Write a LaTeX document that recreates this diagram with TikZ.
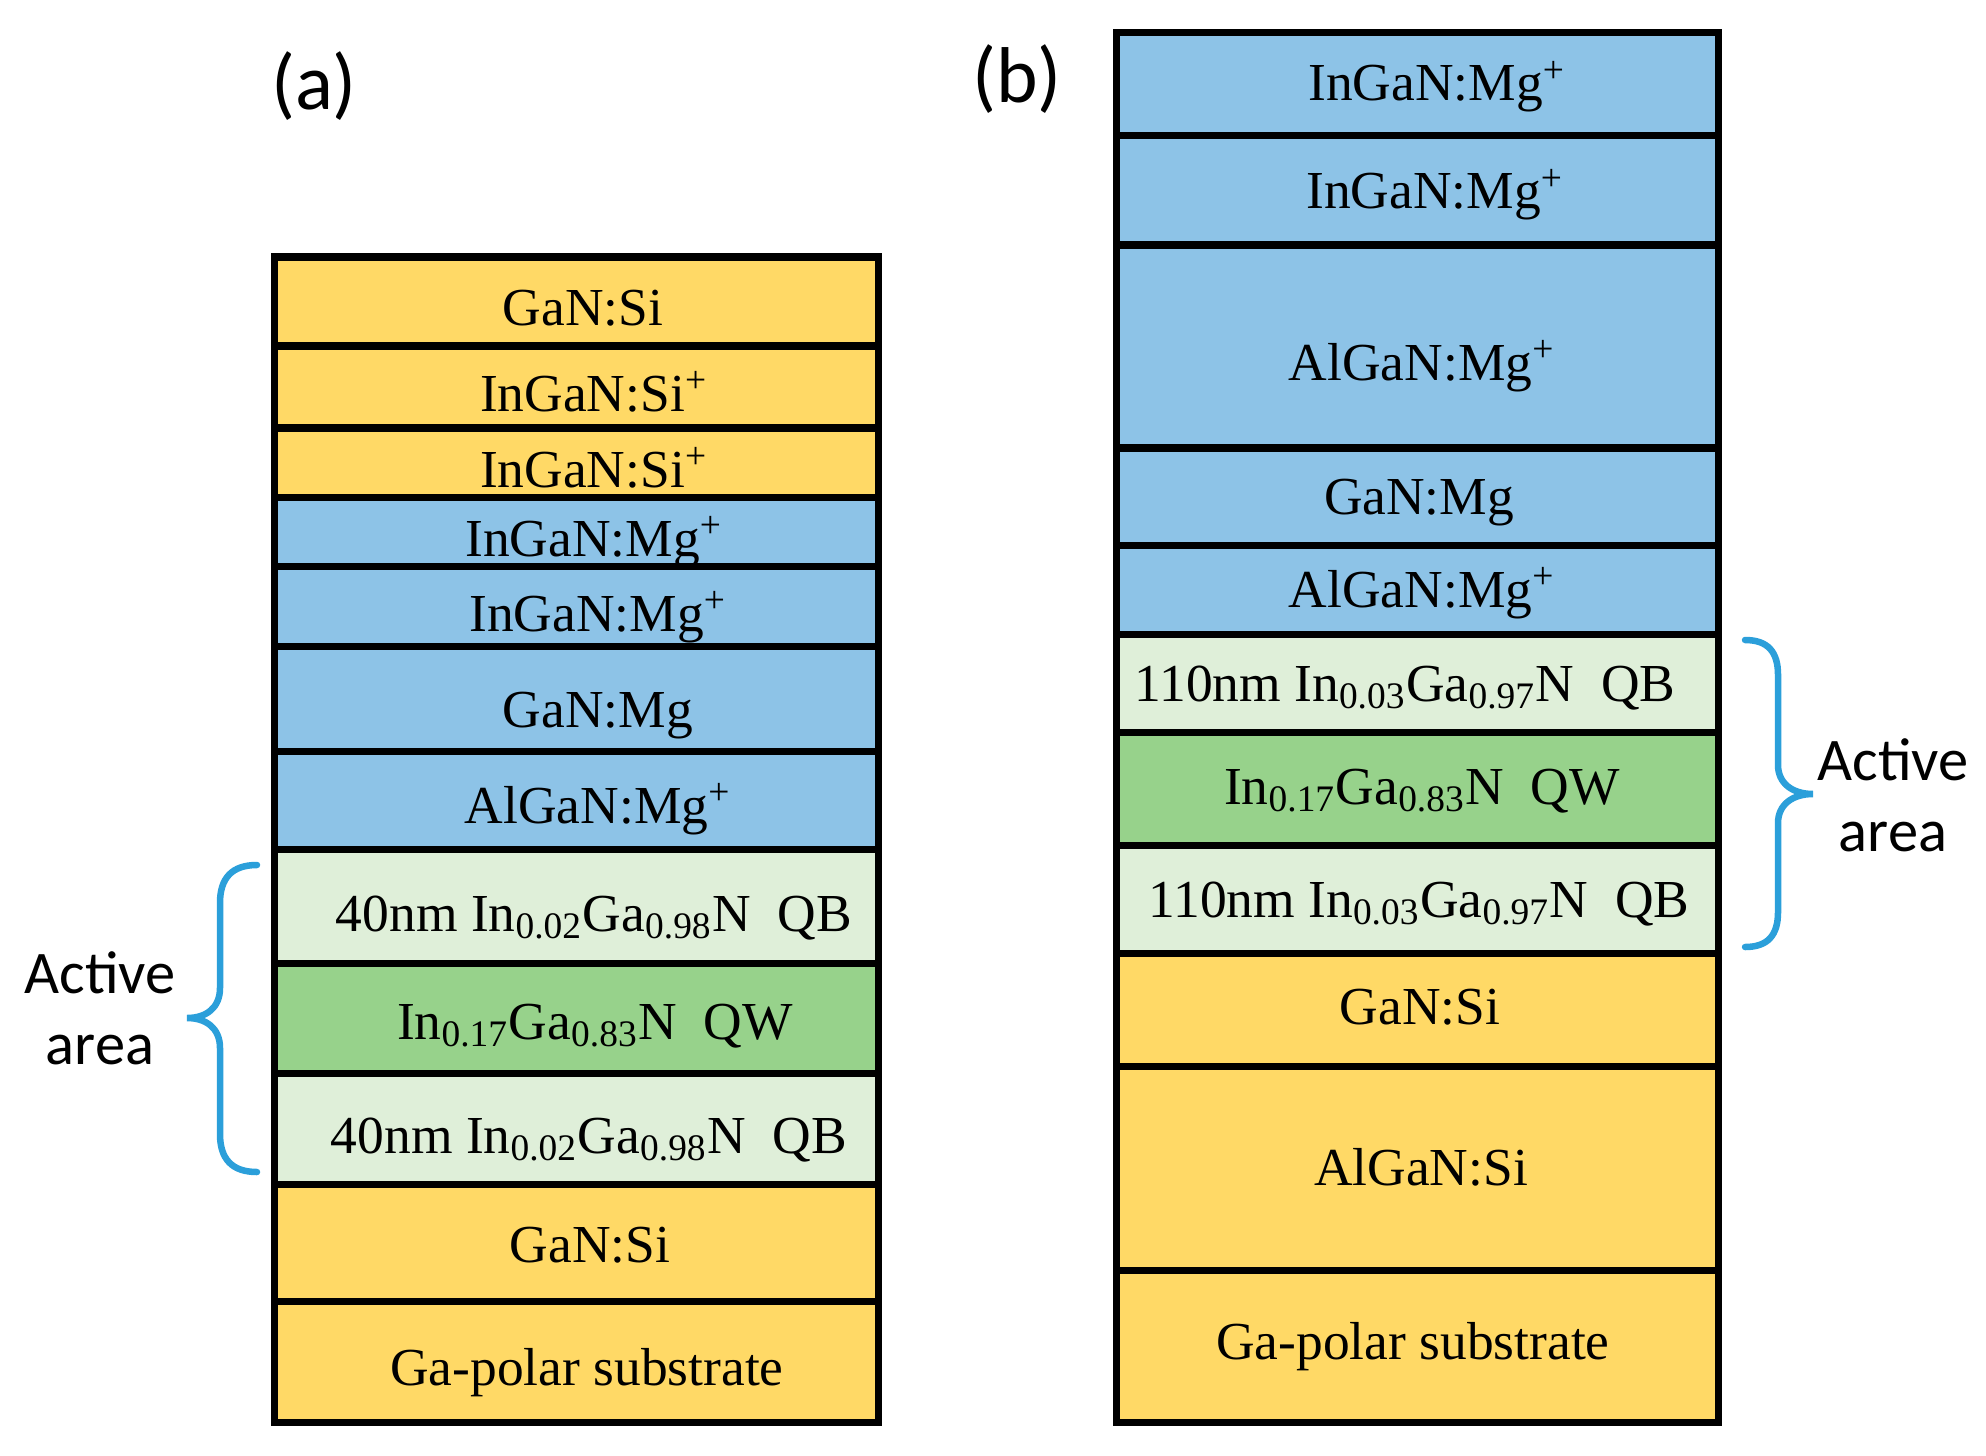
\documentclass[tikz,border=0pt]{standalone}
\usepackage{fontspec}
\setmainfont{Liberation Serif}
\newfontfamily\calfont{Carlito}
\usetikzlibrary{positioning}
\definecolor{myyellow}{HTML}{FFD966}
\definecolor{myblue}{HTML}{8DC3E7}
\definecolor{mylight}{HTML}{DFEFD9}
\definecolor{mygreen}{HTML}{97D28B}
\definecolor{mybrace}{HTML}{2B9FDA}

\begin{document}
\begin{tikzpicture}[x=0.01cm, y=-0.01cm,
                    line join=miter,
                    layer/.style={draw=black, line width=0.07cm},
                    layertext/.style={anchor=base, inner sep=0pt, font=\fontsize{15.2}{18}\selectfont},
                    brace/.style={mybrace, line width=0.065cm, line cap=round},
                    panel/.style={inner sep=0pt, font=\calfont\fontsize{22.5}{26}\selectfont},
                    note/.style={align=center, inner sep=0pt, font=\calfont\fontsize{17.2}{20.2}\selectfont}]
  \useasboundingbox (0,0) rectangle (1986,1455);

  \def\xlA{274} \def\xrA{878}
  \def\xlB{1116} \def\xrB{1718}
  \def\qbA{40nm In\textsubscript{0.02}Ga\textsubscript{0.98}N\ \ QB}
  \def\qbB{110nm In\textsubscript{0.03}Ga\textsubscript{0.97}N\ \ QB}
  \def\qw{In\textsubscript{0.17}Ga\textsubscript{0.83}N\ \ QW}
  \def\mgp{Mg\textsuperscript{+}}
  \def\sip{Si\textsuperscript{+}}

  % panel labels
  \node[panel] (lblA) at (314,86) {(a)};
  \node[panel] (lblB) at (1017,79) {(b)};

  % stack (a): top/bottom/fill/text x/baseline/text
  \foreach \ytop/\ybot/\col/\xt/\yb/\txt [count=\i] in
     {257/346/myyellow/583/325/GaN:Si,
      346/428/myyellow/594/411/InGaN:\sip,
      428/497/myyellow/594/487/InGaN:\sip,
      497/566/myblue/594/556/InGaN:\mgp,
      566/646/myblue/598/631/InGaN:\mgp,
      646/751/myblue/598/727/GaN:Mg,
      751/849/myblue/598/823/AlGaN:\mgp,
      849/963/mylight/594/931/\qbA,
      963/1073/mygreen/595/1039/\qw,
      1073/1184/mylight/589/1153/\qbA,
      1184/1301/myyellow/590/1262/GaN:Si,
      1301/1422/myyellow/587/1385/Ga-polar substrate}{
    \draw[layer,fill=\col] (\xlA,\ytop) rectangle (\xrA,\ybot);
    \node[layertext] (a\i) at (\xt,\yb) {\txt};
  }

  % stack (b)
  \foreach \ytop/\ybot/\col/\xt/\yb/\txt [count=\i] in
     {33/136/myblue/1437/101/InGaN:\mgp,
      136/245/myblue/1435/209/InGaN:\mgp,
      245/448/myblue/1422/380/AlGaN:\mgp,
      448/545/myblue/1419/514/GaN:Mg,
      545/634/myblue/1422/607/AlGaN:\mgp,
      634/732/mylight/1405/701/\qbB,
      732/845/mygreen/1422/804/\qw,
      845/953/mylight/1419/917/\qbB,
      953/1066/myyellow/1420/1024/GaN:Si,
      1066/1270/myyellow/1421/1185/AlGaN:Si,
      1270/1422/myyellow/1413/1359/Ga-polar substrate}{
    \draw[layer,fill=\col] (\xlB,\ytop) rectangle (\xrB,\ybot);
    \node[layertext] (b\i) at (\xt,\yb) {\txt};
  }

  % active area braces
  \draw[brace] (257,865) .. controls (232,865) and (220,878) .. (220,903)
    -- (220,988) .. controls (220,1008) and (206,1018) .. (187,1018)
    .. controls (206,1018) and (220,1028) .. (220,1048)
    -- (220,1134) .. controls (220,1159) and (232,1172) .. (257,1172);
  \draw[brace] (1745,640) .. controls (1768,640) and (1778,652) .. (1778,675)
    -- (1778,765) .. controls (1778,783) and (1792,794) .. (1813,794)
    .. controls (1792,794) and (1778,805) .. (1778,823)
    -- (1778,912) .. controls (1778,935) and (1768,947) .. (1745,947);
  \node[note] (actA) at (100,1008) {Active\\area};
  \node[note] (actB) at (1893,795) {Active\\area};
\end{tikzpicture}
\end{document}
